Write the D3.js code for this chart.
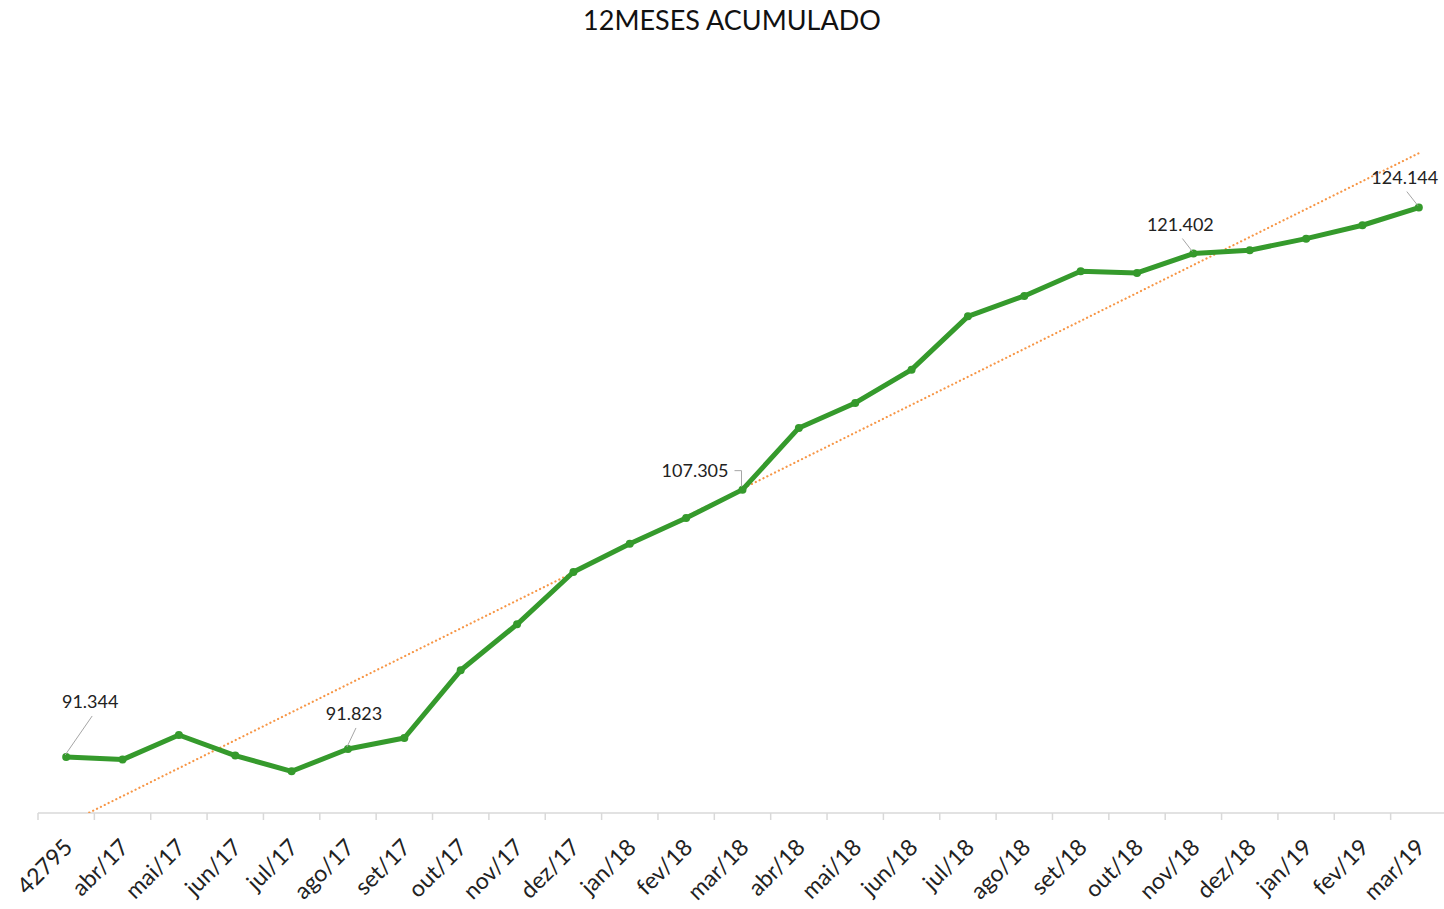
<!DOCTYPE html>
<html>
<head>
<meta charset="utf-8">
<script src="https://cdn.jsdelivr.net/npm/d3@7"></script>
<style>
  body { margin: 0; background: #fff; }
  svg { font-family: Lato, "Open Sans", sans-serif; }
</style>
</head>
<body>
<div class="line-chart__container"></div>
<script>
// data
const months = ['42795', 'abr/17', 'mai/17', 'jun/17', 'jul/17', 'ago/17', 'set/17', 'out/17',
  'nov/17', 'dez/17', 'jan/18', 'fev/18', 'mar/18', 'abr/18', 'mai/18', 'jun/18', 'jul/18',
  'ago/18', 'set/18', 'out/18', 'nov/18', 'dez/18', 'jan/19', 'fev/19', 'mar/19'];
const values = [91.344, 91.189, 92.657, 91.428, 90.490, 91.823, 92.478, 96.520,
  99.266, 102.39, 104.08, 105.61, 107.305, 110.99, 112.48, 114.47, 117.65,
  118.87, 120.34, 120.24, 121.402, 121.60, 122.29, 123.09, 124.144];
const yDomain = [88, 128];
// which points carry a data label
const labelled = ['42795', 'ago/17', 'mar/18', 'nov/18', 'mar/19'];

// label placement (styling only)
const labelStyle = {
  '42795': { dx: 24, dy: -55, anchor: 'middle', leader: 'diag' },
  'ago/17': { dx: 6, dy: -35, anchor: 'middle', leader: 'diag' },
  'mar/18': { dx: -14, dy: -19, anchor: 'end', leader: 'elbow' },
  'nov/18': { dx: -13, dy: -29, anchor: 'middle', leader: 'diag' },
  'mar/19': { dx: -14, dy: -30, anchor: 'middle', leader: 'diag' }
};

const data = months.map((m, i) => ({ month: m, value: values[i] }));

// linear trend (least squares, like the spreadsheet trendline)
const n = data.length;
const xs = d3.range(n);
const xMean = d3.mean(xs);
const yMean = d3.mean(values);
const slope = d3.sum(xs, i => (i - xMean) * (values[i] - yMean)) / d3.sum(xs, i => (i - xMean) ** 2);
const intercept = yMean - slope * xMean;

const width = 1444;
const height = 909;
const margin = { top: 143, right: 0, bottom: 96, left: 38 };
const widthChart = 1447 - margin.left;
const heightChart = height - margin.top - margin.bottom;

const xScale = d3.scaleBand()
  .domain(months)
  .range([0, widthChart]);
const xPos = m => xScale(m) + xScale.bandwidth() / 2;
const xIdx = i => xScale.bandwidth() * (i + 0.5);

const yScale = d3.scaleLinear()
  .domain(yDomain)
  .range([heightChart, 0]);

const svg = d3.select('.line-chart__container')
  .append('svg')
  .attr('width', width)
  .attr('height', height);

// title
svg.append('text')
  .attr('x', 732)
  .attr('y', 30)
  .attr('text-anchor', 'middle')
  .style('font-size', '27px')
  .style('fill', '#111')
  .text('12MESES ACUMULADO');

const g = svg.append('g')
  .attr('transform', `translate(${margin.left},${margin.top})`);

g.append('clipPath')
  .attr('id', 'plot-clip')
  .append('rect')
  .attr('x', 0)
  .attr('y', -20)
  .attr('width', widthChart)
  .attr('height', heightChart + 20);

// x axis
const xAxis = d3.axisBottom(xScale)
  .tickSize(0)
  .tickPadding(0);

const xAxisDraw = g.append('g')
  .attr('class', 'x-axis')
  .attr('transform', `translate(0,${heightChart})`)
  .call(xAxis);
xAxisDraw.select('.domain').remove();
xAxisDraw.append('line')
  .attr('x1', 0).attr('x2', widthChart)
  .attr('stroke', '#d9d9d9').attr('stroke-width', 1.5);
xAxisDraw.selectAll('.boundary')
  .data(d3.range(n + 1))
  .enter()
  .append('line')
  .attr('x1', i => xScale.step() * i)
  .attr('x2', i => xScale.step() * i)
  .attr('y2', 7)
  .attr('stroke', '#d9d9d9').attr('stroke-width', 1.5);
xAxisDraw.selectAll('.tick text')
  .attr('transform', 'translate(2,30) rotate(-45)')
  .attr('dy', '0.35em')
  .style('text-anchor', 'end')
  .style('font-size', '23px')
  .style('font-family', 'Lato, "Open Sans", sans-serif')
  .style('fill', '#222');

// trendline
g.append('line')
  .attr('clip-path', 'url(#plot-clip)')
  .attr('x1', xIdx(0)).attr('y1', yScale(intercept))
  .attr('x2', xIdx(n - 1)).attr('y2', yScale(intercept + slope * (n - 1)))
  .attr('stroke', '#f79646')
  .attr('stroke-width', 2.2)
  .attr('stroke-linecap', 'round')
  .attr('stroke-dasharray', '0.1,4.2');

// series
const lineGenerator = d3.line()
  .x(d => xPos(d.month))
  .y(d => yScale(d.value));

g.append('path')
  .datum(data)
  .attr('d', lineGenerator)
  .style('fill', 'none')
  .style('stroke', '#359a2c')
  .style('stroke-width', 5)
  .style('stroke-linejoin', 'round');

g.selectAll('.marker')
  .data(data)
  .enter()
  .append('circle')
  .attr('cx', d => xPos(d.month))
  .attr('cy', d => yScale(d.value))
  .attr('r', 4)
  .style('fill', '#359a2c');

// data labels with leader lines
const labels = g.append('g').attr('class', 'data-labels');
data.filter(d => labelled.includes(d.month)).forEach(d => {
  const s = labelStyle[d.month];
  const px = xPos(d.month);
  const py = yScale(d.value);
  const tx = px + s.dx;
  const ty = py + s.dy;
  if (s.leader === 'elbow') {
    labels.append('path')
      .attr('d', `M${tx + 6},${ty} H${px - 1} V${py - 3}`)
      .style('fill', 'none')
      .style('stroke', '#a6a6a6')
      .style('stroke-width', 1);
  } else {
    labels.append('line')
      .attr('x1', tx + 2).attr('y1', ty + 14)
      .attr('x2', px - 1).attr('y2', py - 2)
      .style('stroke', '#a6a6a6')
      .style('stroke-width', 1);
  }
  labels.append('text')
    .attr('x', tx)
    .attr('y', ty)
    .attr('dy', '0.35em')
    .attr('text-anchor', s.anchor)
    .style('font-size', '18px')
    .style('fill', '#222')
    .text(d.value.toFixed(3));
});
</script>
</body>
</html>
